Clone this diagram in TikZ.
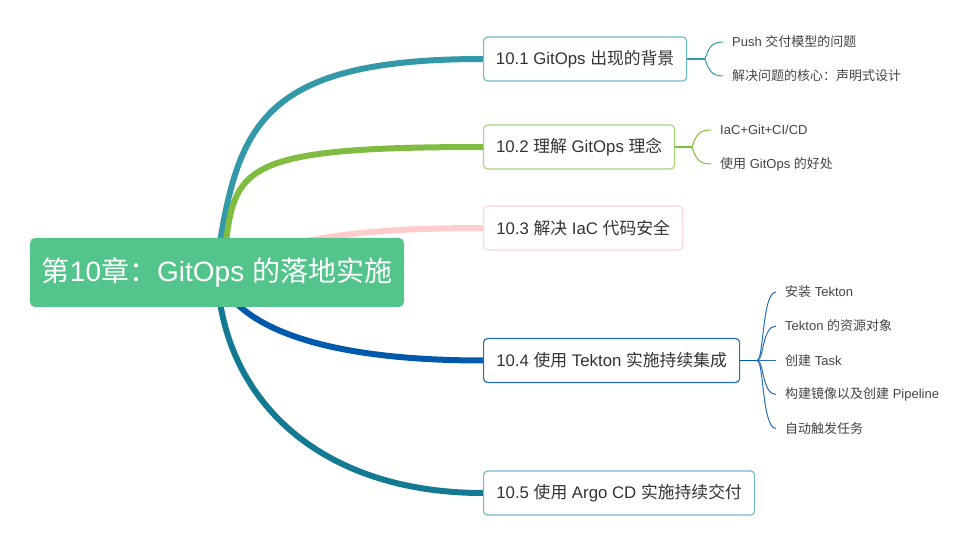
\documentclass[tikz,border=0pt]{standalone}
\usepackage{fontspec}
\setmainfont{Liberation Sans}
\newfontfamily\cjk{Noto Sans CJK SC}
\newcommand\zh[1]{{\cjk #1}}
\definecolor{mainGreen}{RGB}{82,196,140}
\definecolor{bA}{RGB}{51,153,168}
\definecolor{bB}{RGB}{128,188,64}
\definecolor{bC}{RGB}{255,204,204}
\definecolor{bD}{RGB}{0,89,170}
\definecolor{bE}{RGB}{20,122,148}
\definecolor{eA}{RGB}{110,190,202}
\definecolor{eB}{RGB}{165,212,120}
\definecolor{eC}{RGB}{255,214,214}
\definecolor{eD}{RGB}{40,110,185}
\definecolor{eE}{RGB}{120,185,200}
\definecolor{txtc}{RGB}{51,51,51}
\definecolor{leafc}{RGB}{68,68,68}
\pgfdeclarelayer{back}
\pgfdeclarelayer{bg}
\pgfsetlayers{back,bg,main}
\tikzset{
  rootbox/.style={fill=mainGreen, rounded corners=5pt, text=white, font=\fontsize{28}{32}\selectfont,
    minimum width=374pt, minimum height=69pt, inner sep=0pt},
  topicbox/.style={fill=white, draw=#1, line width=1.2pt, rounded corners=4pt, text=txtc,
    font=\fontsize{16.8}{20}\selectfont, minimum height=44pt, inner xsep=12pt, anchor=west},
  leafnode/.style={text=leafc, font=\fontsize{13}{16}\selectfont, inner xsep=9pt, inner ysep=0pt, anchor=west},
  branch/.style={draw=#1, line width=6pt},
  stem/.style={draw=#1, line width=1.6pt},
  twig/.style={draw=#1, line width=1pt},
}
\begin{document}
\begin{tikzpicture}[x=1pt,y=-1pt]
\useasboundingbox (0,0) rectangle (977,545);
\begin{pgfonlayer}{back}
\fill[white] (0,0) rectangle (977,545);
\end{pgfonlayer}

\node[rootbox] (m) at (217,272.5) {\zh{第}10\zh{章：}GitOps \zh{的落地实施}};

\node[topicbox=eA, minimum width=203pt] (n1) at (483,59) {10.1 GitOps \zh{出现的背景}};
\node[topicbox=eB, minimum width=191pt] (n2) at (483,147) {10.2 \zh{理解} GitOps \zh{理念}};
\node[topicbox=eC, minimum width=199pt] (n3) at (483,228) {10.3 \zh{解决} IaC \zh{代码安全}};
\node[topicbox=eD, minimum width=256pt] (n4) at (483,360.5) {10.4 \zh{使用} Tekton \zh{实施持续集成}};
\node[topicbox=eE, minimum width=271pt] (n5) at (483,493) {10.5 \zh{使用} Argo CD \zh{实施持续交付}};

\begin{pgfonlayer}{bg}
\draw[branch=bC] (m.center) .. controls (280,238) and (360,228) .. (n3.west);
\draw[branch=bA] (m.center) -- (220,242) .. controls (240,120) and (270,59) .. (n1.west);
\draw[branch=bB] (m.center) -- (226,242) .. controls (235,165) and (250,147) .. (n2.west);
\draw[branch=bD] (m.center) .. controls (235,330) and (330,360.5) .. (n4.west);
\draw[branch=bE] (m.center) .. controls (222,400) and (320,493) .. (n5.west);
\end{pgfonlayer}

% leaves of 10.1
\node[leafnode] (l11) at (723,42) {Push \zh{交付模型的问题}};
\node[leafnode] (l12) at (723,76) {\zh{解决问题的核心：声明式设计}};
\coordinate (j1) at (705,59);
\draw[stem=bA] (n1.east) -- (j1);
\draw[twig=bA] (j1) .. controls (709,47) and (712,42) .. (l11.west);
\draw[twig=bA] (j1) .. controls (709,71) and (712,76) .. (l12.west);

% leaves of 10.2
\node[leafnode] (l21) at (711,130) {IaC+Git+CI/CD};
\node[leafnode] (l22) at (711,164) {\zh{使用} GitOps \zh{的好处}};
\coordinate (j2) at (692,147);
\draw[stem=bB] (n2.east) -- (j2);
\draw[twig=bB] (j2) .. controls (696,135) and (699,130) .. (l21.west);
\draw[twig=bB] (j2) .. controls (696,159) and (699,164) .. (l22.west);

% leaves of 10.4
\node[leafnode] (l41) at (776,292) {\zh{安装} Tekton};
\node[leafnode] (l42) at (776,326) {Tekton \zh{的资源对象}};
\node[leafnode] (l43) at (776,360.5) {\zh{创建} Task};
\node[leafnode] (l44) at (776,394.5) {\zh{构建镜像以及创建} Pipeline};
\node[leafnode] (l45) at (776,428.5) {\zh{自动触发任务}};
\coordinate (j4) at (757,360.5);
\draw[stem=bD] (n4.east) -- (j4);
\draw[twig=eD] (j4) .. controls (764,360.5) and (762,292) .. (l41.west);
\draw[twig=eD] (j4) .. controls (764,360.5) and (762,326) .. (l42.west);
\draw[twig=eD] (j4) -- (l43.west);
\draw[twig=eD] (j4) .. controls (764,360.5) and (762,394.5) .. (l44.west);
\draw[twig=eD] (j4) .. controls (764,360.5) and (762,428.5) .. (l45.west);
\end{tikzpicture}
\end{document}
